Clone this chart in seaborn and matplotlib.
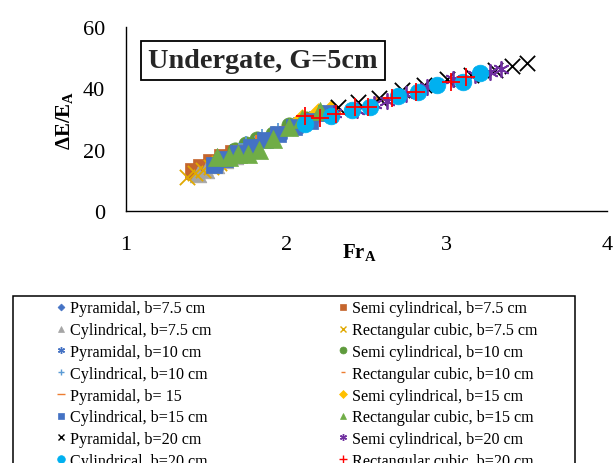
import numpy as np
import pandas as pd
import matplotlib
matplotlib.use("Agg")
import matplotlib.pyplot as plt
import seaborn as sns
from matplotlib.lines import Line2D
from matplotlib.patches import Rectangle

# data (Fr_A, dE/E_A)
pyr75_fr = [1.45, 1.52, 1.58, 1.65, 1.72]
pyr75_de = [13, 15, 16.5, 18.5, 20]
semi75_fr = [1.42, 1.47, 1.53, 1.60, 1.67]
semi75_de = [13, 14.5, 16, 17.5, 19]
cyl75_fr = [1.45, 1.50, 1.56, 1.62, 1.68]
cyl75_de = [12, 13.5, 15, 16.5, 18]
rect75_fr = [1.38, 1.43, 1.48, 1.53, 1.58]
rect75_de = [11, 12.5, 13.5, 14.5, 15.5]
pyr10_fr = [1.60, 1.70, 1.80, 1.90, 2.00, 2.10]
pyr10_de = [16, 19, 21, 23, 26, 28]
semi10_fr = [1.68, 1.75, 1.82, 1.92, 2.02, 2.12, 2.22]
semi10_de = [20, 22, 23.5, 25, 28, 30, 32]
cyl10_fr = [1.75, 1.85, 1.95, 2.05, 2.15]
cyl10_de = [22, 24, 26, 28, 30]
rect10_fr = [1.85, 2.00, 2.15, 2.30, 2.45, 2.60, 2.70]
rect10_de = [24, 27, 30, 32, 34, 36.5, 38]
pyr15_fr = [1.72, 1.80, 1.88, 1.97, 2.06, 2.15, 2.25]
pyr15_de = [21, 22, 24, 26, 28, 30, 32.5]
semi15_fr = [2.10, 2.20, 2.28]
semi15_de = [30, 32, 33]
cyl15_fr = [1.55, 1.62, 1.70, 1.78, 1.87, 1.95, 2.05, 2.15, 2.25]
cyl15_de = [15, 17, 19, 21, 23, 25, 27.5, 29.5, 32]
rect15_fr = [1.57, 1.64, 1.70, 1.76, 1.83, 1.92, 2.02, 2.10, 2.21]
rect15_de = [17.5, 17.5, 18.5, 18.5, 20, 23.5, 27.5, 30, 32.5]
pyr20_fr = [2.32, 2.45, 2.58, 2.72, 2.86, 3.00, 3.15, 3.30, 3.41, 3.50]
pyr20_de = [34, 35.5, 37, 39.5, 41, 43, 44.5, 46, 47.2, 48.3]
semi20_fr = [2.30, 2.44, 2.55, 2.63, 2.75, 2.88, 3.04, 3.18, 3.27, 3.34]
semi20_de = [32, 33, 35, 36, 38, 40.5, 43, 44.5, 45.3, 46.3]
cyl20_fr = [2.115, 2.28, 2.41, 2.52, 2.70, 2.82, 2.94, 3.10, 3.21]
cyl20_de = [28.3, 31, 33, 34, 37.5, 38.8, 41, 42, 45]
rect20_fr = [2.115, 2.21, 2.31, 2.43, 2.51, 2.66, 2.81, 3.03, 3.12]
rect20_de = [31, 30.3, 31.6, 34, 34, 36.8, 38.8, 42, 43.6]

labels = ["Pyramidal, b=7.5 cm", "Semi cylindrical, b=7.5 cm",
          "Cylindrical, b=7.5 cm", "Rectangular cubic, b=7.5 cm",
          "Pyramidal, b=10 cm", "Semi cylindrical, b=10 cm",
          "Cylindrical, b=10 cm", "Rectangular cubic, b=10 cm",
          "Pyramidal, b= 15", "Semi cylindrical, b=15 cm",
          "Cylindrical, b=15 cm", "Rectangular cubic, b=15 cm",
          "Pyramidal, b=20 cm", "Semi cylindrical, b=20 cm",
          "Cylindrical, b=20 cm", "Rectangular cubic, b=20 cm"]
fr_values = [pyr75_fr, semi75_fr, cyl75_fr, rect75_fr, pyr10_fr, semi10_fr,
             cyl10_fr, rect10_fr, pyr15_fr, semi15_fr, cyl15_fr, rect15_fr,
             pyr20_fr, semi20_fr, cyl20_fr, rect20_fr]
de_values = [pyr75_de, semi75_de, cyl75_de, rect75_de, pyr10_de, semi10_de,
             cyl10_de, rect10_de, pyr15_de, semi15_de, cyl15_de, rect15_de,
             pyr20_de, semi20_de, cyl20_de, rect20_de]

# styles: marker, colour, size in plot (pt), size in legend (pt)
star = (6, 2, 0)
styles = [("D", "#4472C4", 10, 3.5), ("s", "#C5652D", 11, 4.5),
          ("^", "#A5A5A5", 12, 5), ("x", "#E0A800", 11, 4.5),
          (star, "#4472C4", 11, 5), ("o", "#5E9A3C", 11, 5),
          ("+", "#5B9BD5", 11, 5), ("_", "#ED7D31", 10, 3.5),
          ("_", "#ED7D31", 12, 5.5), ("D", "#FFC000", 10, 4),
          ("s", "#4472C4", 11, 5), ("^", "#70AD47", 13, 5),
          ("x", "#000000", 11, 4.5), (star, "#7030A0", 11, 5),
          ("o", "#00B0F0", 12, 5.5), ("+", "#FF0000", 13, 5.5)]

sns.set_theme(style="white")
plt.rcParams["font.family"] = ["Liberation Serif", "DejaVu Serif"]
plt.rcParams["mathtext.fontset"] = "custom"
plt.rcParams["mathtext.rm"] = "Liberation Serif"
plt.rcParams["mathtext.bf"] = "Liberation Serif:bold"

fig = plt.figure(figsize=(6.13, 4.64), dpi=100)
ax = fig.add_axes([0.2055, 0.543, 0.7845, 0.3967])

for lab, fr, de, (mk, col, sz, _) in zip(labels, fr_values, de_values, styles):
    df = pd.DataFrame({"fr": fr, "de": de})
    filled = matplotlib.markers.MarkerStyle(mk).is_filled()
    if filled:
        sns.scatterplot(data=df, x="fr", y="de", ax=ax, marker=mk, color=col,
                        s=sz ** 2, edgecolor=col, linewidth=0.5, zorder=3)
    else:
        sns.scatterplot(data=df, x="fr", y="de", ax=ax, marker=mk, color=col,
                        s=sz ** 2, linewidth=1.3 if mk != "_" else 3, zorder=3)

ax.set_xlim(1, 4)
ax.set_ylim(0, 60)
ax.set_xticks([1, 2, 3, 4])
ax.set_yticks([0, 20, 40, 60])
for side in ["top", "right"]:
    ax.spines[side].set_visible(False)
for side in ["left", "bottom"]:
    ax.spines[side].set_color("black")
    ax.spines[side].set_linewidth(1.0)
ax.tick_params(direction="in", length=4, width=1, color="black",
               labelsize=16, labelcolor="black")
ax.tick_params(axis="x", pad=17)
ax.tick_params(axis="y", pad=15)

ax.set_xlabel(r"$\mathbf{Fr}_\mathbf{A}$", fontsize=15, color="black")
ax.set_ylabel(r"$\mathbf{ΔE/E}_\mathbf{A}$", fontsize=15, color="black")
ax.xaxis.set_label_coords(0.486, -0.165)
ax.yaxis.set_label_coords(-0.104, 0.5)

ax.text(0.285, 0.817, "Undergate, G=5cm", transform=ax.transAxes,
        fontsize=20.3, fontweight="bold", ha="center", va="center",
        bbox=dict(boxstyle="square,pad=0.25", facecolor="white",
                  edgecolor="black", linewidth=1.3))

# legend: two columns, frame runs past the bottom edge
handles = []
for lab, (mk, col, sz, lsz) in zip(labels, styles):
    filled = matplotlib.markers.MarkerStyle(mk).is_filled()
    handles.append(Line2D([], [], linestyle="none", marker=mk, color=col,
                          markersize=lsz, markeredgewidth=1.0 if not filled else 0.5,
                          markeredgecolor=col, label=lab))

W, H = 613, 464
fs = 11.6
for col_i, x_left in [(0, 56.3), (1, 338.3)]:
    hs = handles[col_i::2]
    fig.legend(handles=hs, labels=[h.get_label() for h in hs],
               loc="upper left", bbox_to_anchor=(x_left / W, 1 - 301.5 / H),
               frameon=False, fontsize=fs, handlelength=0.55,
               handletextpad=0.3, borderpad=0, borderaxespad=0,
               labelspacing=0.357, numpoints=1, labelcolor="black")

fig.add_artist(Rectangle((12.7 / W, -0.05), (575 - 12.7) / W, 0.05 + 1 - 296.7 / H,
                         transform=fig.transFigure, fill=False,
                         edgecolor="black", linewidth=1.1, clip_on=False))

fig.savefig("out.png", dpi=100)
